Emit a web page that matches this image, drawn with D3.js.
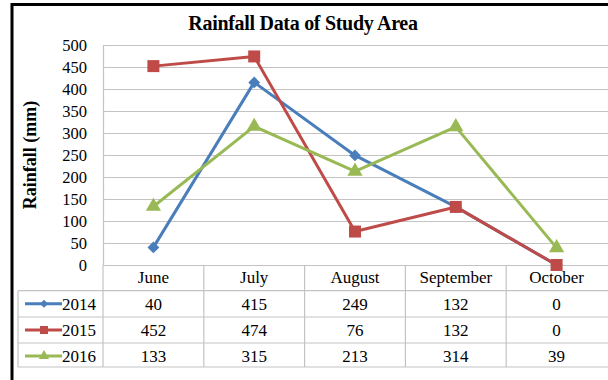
<!DOCTYPE html>
<html>
<head>
<meta charset="utf-8">
<script src="https://cdn.jsdelivr.net/npm/d3@7/dist/d3.min.js"></script>
<style>
  html, body { margin: 0; padding: 0; background: #fff; }
  svg { display: block; }
  svg text { font-family: "Liberation Serif", "Times New Roman", serif; fill: #000; }
</style>
</head>
<body>
<svg id="chart" width="608" height="380"></svg>
<script>
// Monthly rainfall (mm) for the study area
const months = ["June", "July", "August", "September", "October"];
const years = ["2014", "2015", "2016"];
const rain2014 = [40, 415, 249, 132, 0];
const rain2015 = [452, 474, 76, 132, 0];
const rain2016 = [133, 315, 213, 314, 39];
const yTicks = [0, 50, 100, 150, 200, 250, 300, 350, 400, 450, 500];

const series = [
  { name: years[0], values: rain2014, color: "#4a7ebb", marker: d3.symbolSquare, size: 70, rotate: 45 },
  { name: years[1], values: rain2015, color: "#be4b48", marker: d3.symbolSquare, size: 144, rotate: 0 },
  { name: years[2], values: rain2016, color: "#98b954", marker: d3.symbolTriangle, size: 100, rotate: 0 }
];

const svg = d3.select("#chart");
const plot = { left: 103, right: 607, top: 45, bottom: 265 };
const gridColor = "#c3c3c3";

const x = d3.scaleBand().domain(months).range([plot.left, plot.right]).padding(0);
const cx = m => x(m) + x.bandwidth() / 2;
const y = d3.scaleLinear().domain([0, 500]).range([plot.bottom, plot.top]);

// Frame: heavy black rule along the top and the left edge
svg.append("line").attr("x1", 11).attr("x2", 608).attr("y1", 4.5).attr("y2", 4.5)
  .attr("stroke", "#000").attr("stroke-width", 3);
svg.append("line").attr("x1", 12).attr("x2", 12).attr("y1", 3).attr("y2", 380)
  .attr("stroke", "#000").attr("stroke-width", 3);

// Title
svg.append("text").attr("x", 303).attr("y", 30).attr("text-anchor", "middle")
  .attr("font-size", 20).attr("font-weight", "bold").attr("letter-spacing", -0.3)
  .text("Rainfall Data of Study Area");

// Y axis title
svg.append("text")
  .attr("transform", `translate(36,${(plot.top + plot.bottom) / 2}) rotate(-90)`)
  .attr("text-anchor", "middle").attr("font-size", 18).attr("font-weight", "bold")
  .text("Rainfall (mm)");

// Horizontal gridlines
svg.append("g")
  .attr("transform", `translate(${plot.left},0)`)
  .call(d3.axisLeft(y).tickValues(yTicks).tickSize(-(plot.right - plot.left + 1)).tickFormat(""))
  .call(g => g.select(".domain").remove())
  .call(g => g.selectAll(".tick line").attr("stroke", gridColor).attr("stroke-width", 1.2));

// Y tick labels
svg.append("g")
  .attr("transform", `translate(${plot.left},0)`)
  .call(d3.axisLeft(y).tickValues(yTicks).tickSize(0).tickPadding(16))
  .attr("font-family", null)
  .call(g => g.select(".domain").attr("stroke", gridColor).attr("stroke-width", 1.2))
  .call(g => g.selectAll(".tick text").attr("font-size", 16.5).attr("dy", "0.34em"));

// Data table beneath the plot
const rowNames = ["header"].concat(years);
const rowY = d3.scaleOrdinal().domain(rowNames).range([265, 290.7, 317, 343]);
const rowBottom = 367;
const tableLeft = 18;
const table = svg.append("g").attr("stroke", gridColor).attr("stroke-width", 1.2);

// row rules
table.selectAll("line.row").data(years.concat(["end"])).join("line")
  .attr("x1", tableLeft).attr("x2", 608)
  .attr("y1", d => d === "end" ? rowBottom : rowY(d))
  .attr("y2", d => d === "end" ? rowBottom : rowY(d));
// column rules
table.selectAll("line.col").data(months).join("line")
  .attr("x1", d => x(d)).attr("x2", d => x(d))
  .attr("y1", plot.bottom).attr("y2", rowBottom);
table.append("line").attr("x1", tableLeft).attr("x2", tableLeft)
  .attr("y1", rowY(years[0])).attr("y2", rowBottom);

// header labels
svg.append("g").selectAll("text").data(months).join("text")
  .attr("x", d => cx(d)).attr("y", 283).attr("text-anchor", "middle")
  .attr("font-size", 17).text(d => d);

const markerPath = s => d3.symbol().type(s.marker).size(s.size)();

// table values and legend keys
const rowH = 26;
series.forEach(s => {
  const top = rowY(s.name);
  const mid = top + rowH / 2;
  const g = svg.append("g");
  g.selectAll("text.v").data(s.values).join("text")
    .attr("x", (d, j) => cx(months[j])).attr("y", mid + 6)
    .attr("text-anchor", "middle").attr("font-size", 17).text(d => d);
  g.append("line").attr("x1", 25).attr("x2", 62).attr("y1", mid).attr("y2", mid)
    .attr("stroke", s.color).attr("stroke-width", 3);
  g.append("path").attr("d", d3.symbol().type(s.marker).size(s.size * 0.45)())
    .attr("transform", `translate(44,${mid}) rotate(${s.rotate})`).attr("fill", s.color);
  g.append("text").attr("x", 62).attr("y", mid + 6).attr("font-size", 17).text(s.name);
});

// Series lines and markers
const line = d3.line().x((d, j) => cx(months[j])).y(d => y(d));
series.forEach(s => {
  svg.append("path").datum(s.values).attr("d", line)
    .attr("fill", "none").attr("stroke", s.color).attr("stroke-width", 3)
    .attr("stroke-linejoin", "round");
  svg.append("g").selectAll("path").data(s.values).join("path")
    .attr("d", markerPath(s))
    .attr("transform", (d, j) => `translate(${cx(months[j])},${y(d)}) rotate(${s.rotate})`)
    .attr("fill", s.color);
});
</script>
</body>
</html>
